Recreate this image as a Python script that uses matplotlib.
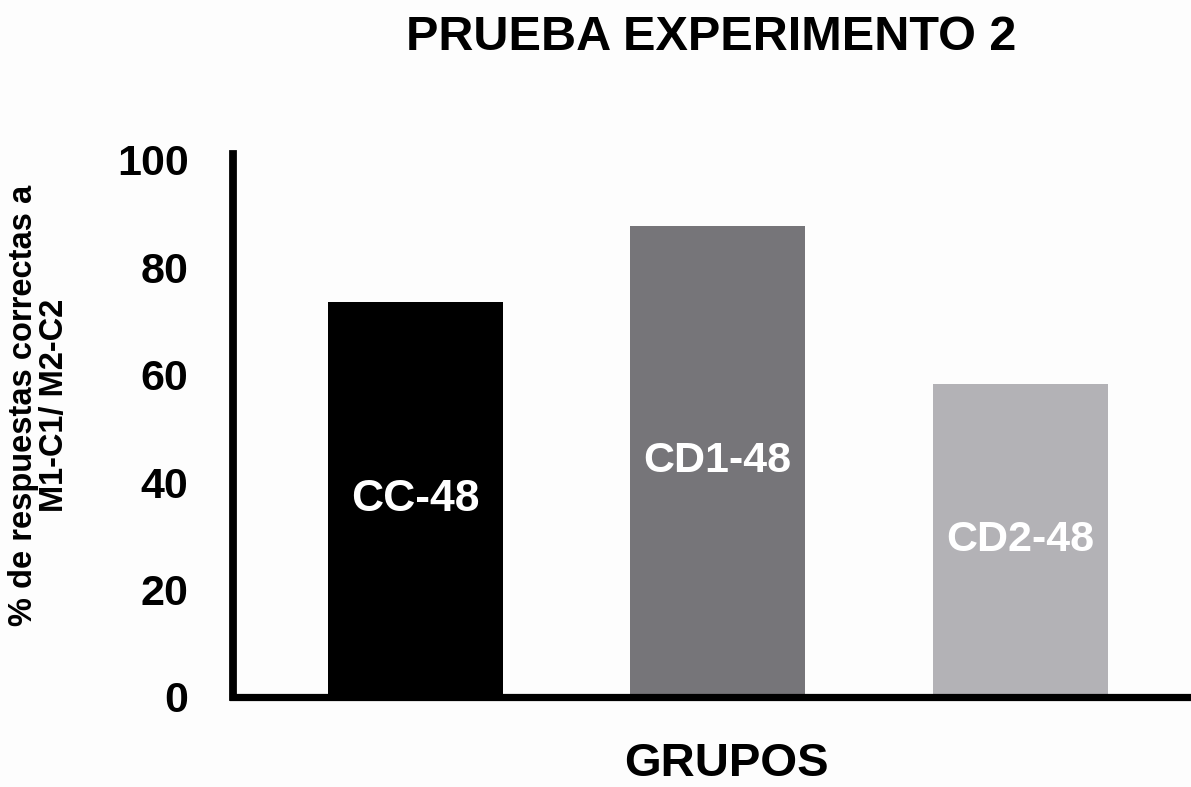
import matplotlib.pyplot as plt

plt.rcParams['font.family'] = ['Liberation Sans', 'DejaVu Sans']

# datos
grupos = ["CC-48", "CD1-48", "CD2-48"]
valores = [73.6, 87.7, 58.3]
colores = ["#000000", "#767579", "#b3b2b6"]
yticks = [0, 20, 40, 60, 80, 100]

W, H = 1191, 787
fig = plt.figure(figsize=(W / 100, H / 100), dpi=100, facecolor="#fdfdfd")
# ejes: x 233 -> 1191 px, y 697 -> 154 px
ax = fig.add_axes([233 / W, (H - 697) / H, (W - 233) / W, (697 - 154) / H])
ax.set_facecolor("#fdfdfd")

x = list(range(len(grupos)))
ax.bar(x, valores, width=0.578, color=colores, zorder=1)

for xi, v, g in zip(x, valores, grupos):
    fs = 32 if g == "CC-48" else 31
    ax.text(xi, v / 2, g, ha="center", va="center", color="white",
            fontsize=fs, fontweight="bold")

ax.set_xlim(-0.602, 2.565)
ax.set_ylim(0, 101.1)
ax.set_yticks(yticks)
ax.set_xticks([])
ax.tick_params(axis="y", length=0, pad=32, labelsize=31)
for lab in ax.get_yticklabels():
    lab.set_fontweight("bold")

for s in ["top", "right"]:
    ax.spines[s].set_visible(False)
ax.spines["left"].set_linewidth(5.6)
ax.spines["bottom"].set_linewidth(5.2)

fig.text(711 / W, 1 - 38 / H, "PRUEBA EXPERIMENTO 2", ha="center", va="center",
         fontsize=35, fontweight="bold")
fig.text(726 / W, 1 - 776 / H, "GRUPOS", ha="center", va="baseline",
         fontsize=34, fontweight="bold")
fig.text(39 / W, 1 - 405 / H, "% de respuestas correctas a\nM1-C1/ M2-C2",
         rotation=90, ha="center", va="center", multialignment="center",
         fontsize=23.5, fontweight="bold", linespacing=0.98)

fig.savefig("out.png", dpi=100, facecolor=fig.get_facecolor())
